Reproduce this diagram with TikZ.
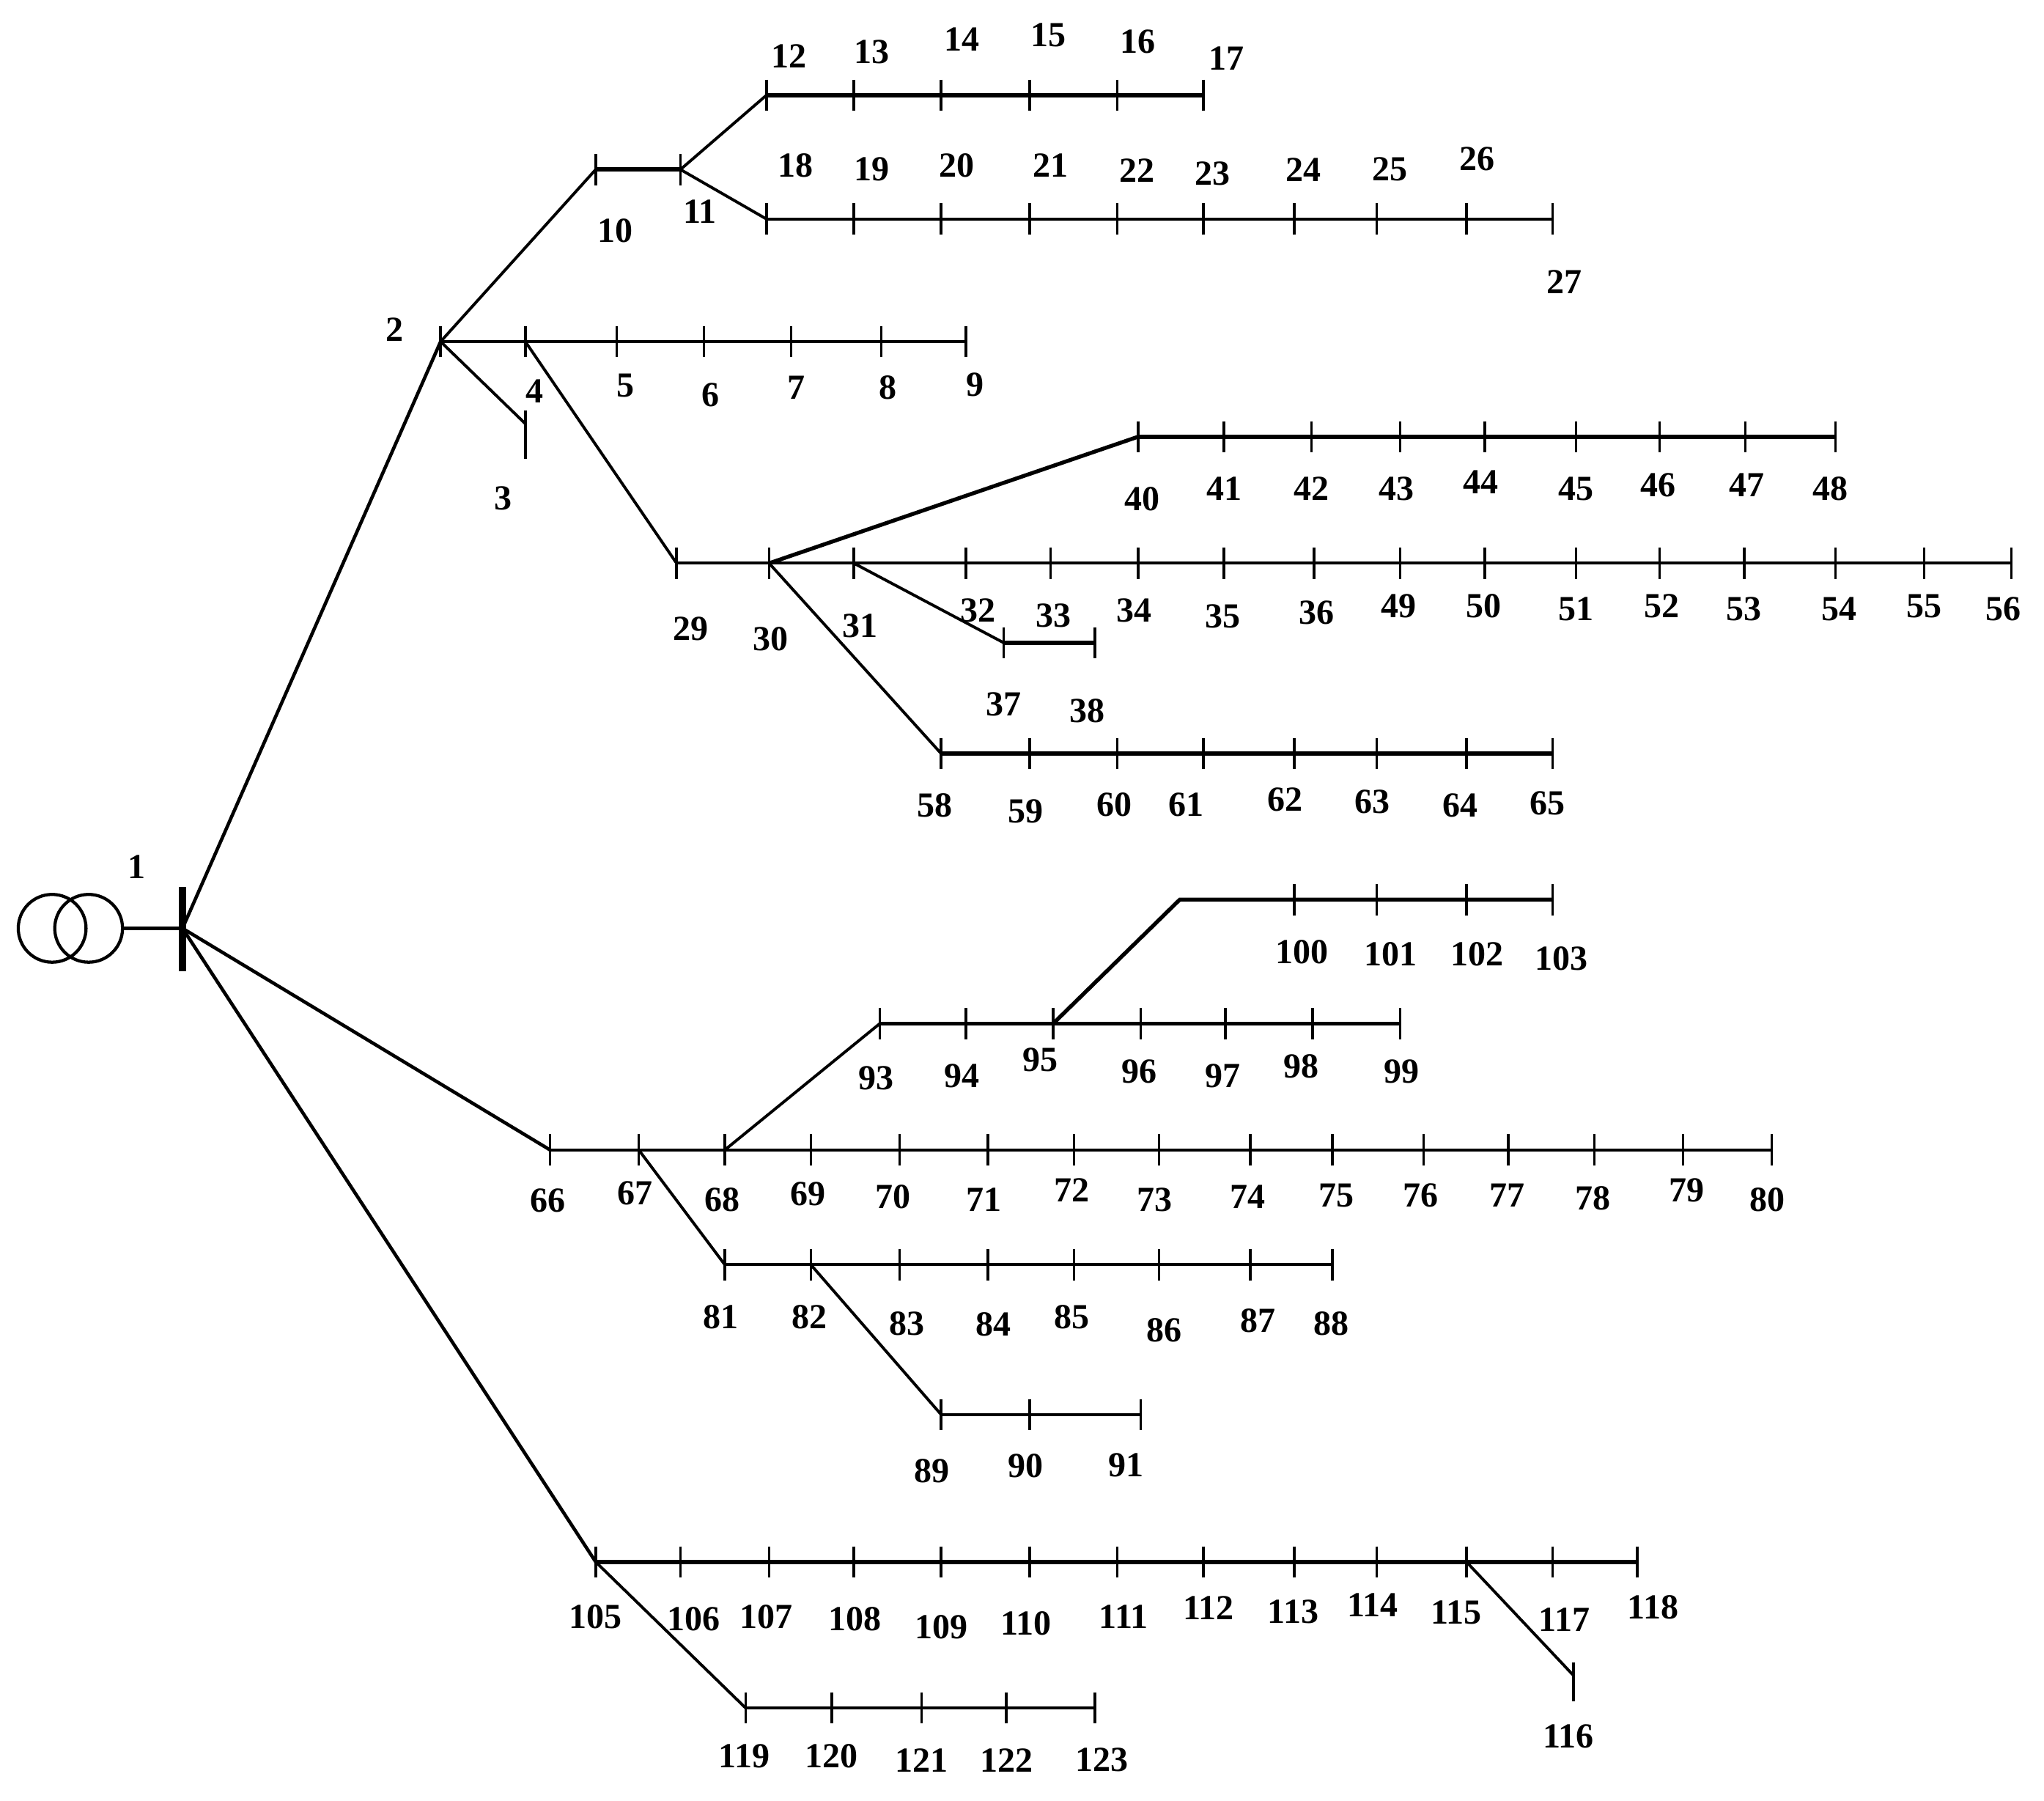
\documentclass[tikz,border=0pt]{standalone}
\usepackage{fontspec}
\setmainfont{Liberation Serif}
\begin{document}
\begin{tikzpicture}[x=1pt,y=-1pt,
  feeder/.style={line width=2.6pt},
  busline/.style={line width=2.2pt},
  tick/.style={line width=2pt},
  lbl/.style={font=\fontsize{27}{27}\selectfont\bfseries,inner sep=0pt}]
\useasboundingbox (0,0) rectangle (1568,1381);
% bus helper
\newcommand{\mybus}[2]{% y, list n/x/lx/ly
  \foreach \n/\x/\lx/\ly in {#2} {
    \coordinate (b\n) at (\x,#1);
    \draw[tick] (\x,#1-12) -- (\x,#1+12);
    \node[lbl] (l\n) at (\lx,\ly) {\n};
  }}
% transformer and bus 1
\draw[line width=2.4pt] (40,712) circle (26) (68,712) circle (26);
\coordinate (t) at (94,712);
\coordinate (b1) at (140,712);
\draw[line width=2.6pt] (t) -- (b1);
\draw[line width=6pt] (140,680) -- (140,745);
\node[lbl] (l1) at (105,665) {1};
% bus 2 branch
\coordinate (b2) at (338,262);
\node[lbl] (l2) at (303,253) {2};
\draw[feeder] (b1) -- (b2);
\draw[tick] (338,250) -- (338,274);
\mybus{130}{10/457/472/177,11/522/537/162}
\draw[busline,line width=3.5pt] (b10) -- (b11);
\draw[busline] (b2) -- (b10);
\mybus{73}{12/588/605/43,13/655/669/40,14/722/738/30,15/790/804/27,16/857/873/32,17/923/941/45}
\draw[busline,line width=3pt] (b12) -- (b17);
\draw[busline] (b11) -- (b12);
\mybus{168}{18/588/610/127,19/655/669/130,20/722/734/127,21/790/806/127,22/857/872/131,23/923/930/133,24/993/1000/130,25/1056/1066/130,26/1125/1133/122,27/1191/1200/216}
\draw[busline] (b18) -- (b27);
\draw[busline] (b11) -- (b18);
\mybus{262}{4/403/410/300,5/473/480/296,6/540/545/303,7/607/611/297,8/676/681/297,9/741/748/295}
\draw[busline] (b2) -- (b9);
\coordinate (b3) at (403,325);
\draw[tick] (403,315) -- (403,352);
\node[lbl] (l3) at (386,382) {3};
\draw[busline] (b2) -- (b3);
\mybus{432}{29/519/530/482,30/590/591/490,31/655/660/480,32/741/750/468,33/806/808/472,34/873/870/468,35/939/938/473,36/1008/1010/470,49/1074/1073/465,50/1139/1138/465,51/1209/1209/467,52/1273/1275/465,53/1338/1338/467,54/1408/1411/467,55/1476/1476/465,56/1543/1537/467}
\draw[busline] (b29) -- (b56);
\draw[busline] (b4) -- (b29);
\mybus{335}{40/873/876/383,41/939/939/375,42/1006/1006/375,43/1074/1071/375,44/1139/1136/370,45/1209/1209/375,46/1273/1272/372,47/1339/1340/372,48/1408/1404/375}
\draw[busline,line width=3pt] (b40) -- (b48);
\draw[busline,line width=3pt] (b30) -- (b40);
\mybus{493}{37/770/770/540,38/840/834/545}
\draw[busline,line width=3pt] (b37) -- (b38);
\draw[busline] (b31) -- (b37);
\mybus{578}{58/722/717/618,59/790/787/622,60/857/855/617,61/923/910/617,62/993/986/613,63/1056/1053/615,64/1125/1120/618,65/1191/1187/616}
\draw[busline,line width=3pt] (b58) -- (b65);
\draw[busline] (b30) -- (b58);
% bus 66 branch
\mybus{882}{66/422/420/921,67/490/487/915,68/556/554/920,69/622/620/916,70/690/685/918,71/758/755/920,72/824/822/913,73/889/886/920,74/959/957/918,75/1022/1025/917,76/1092/1090/917,77/1157/1156/917,78/1223/1222/919,79/1291/1294/913,80/1359/1356/920}
\draw[busline] (b66) -- (b80);
\draw[feeder] (b1) -- (b66);
\mybus{785}{93/675/672/827,94/741/738/825,95/808/798/813,96/875/874/822,97/940/938/825,98/1007/998/818,99/1074/1075/822}
\draw[busline,line width=3pt] (b93) -- (b99);
\draw[busline] (b68) -- (b93);
\coordinate (k) at (905,690);
\mybus{690}{100/993/999/730,101/1056/1067/732,102/1125/1133/732,103/1191/1198/735}
\draw[busline,line width=3pt] (b95) -- (k) -- (b103);
\mybus{970}{81/556/553/1010,82/622/621/1010,83/690/696/1015,84/758/762/1016,85/824/822/1010,86/889/893/1020,87/959/965/1013,88/1022/1021/1015}
\draw[busline] (b81) -- (b88);
\draw[busline] (b67) -- (b81);
\mybus{1085}{89/722/715/1128,90/790/787/1124,91/875/864/1124}
\draw[busline] (b89) -- (b91);
\draw[busline] (b82) -- (b89);
% bus 105 branch
\mybus{1198}{105/457/457/1240,106/522/532/1242,107/590/588/1240,108/655/656/1242,109/722/722/1248,110/790/787/1245,111/857/862/1240,112/923/927/1233,113/993/992/1236,114/1056/1053/1231,115/1125/1117/1237,117/1191/1200/1242,118/1256/1268/1233}
\draw[busline,line width=3pt] (b105) -- (b118);
\draw[feeder] (b1) -- (b105);
\coordinate (b116) at (1207,1285);
\draw[tick] (1207,1275) -- (1207,1305);
\node[lbl] (l116) at (1203,1332) {116};
\draw[busline] (b115) -- (b116);
\mybus{1310}{119/572/571/1347,120/638/638/1347,121/707/707/1350,122/772/772/1350,123/840/845/1350}
\draw[busline] (b119) -- (b123);
\draw[busline] (b105) -- (b119);
\end{tikzpicture}
\end{document}
